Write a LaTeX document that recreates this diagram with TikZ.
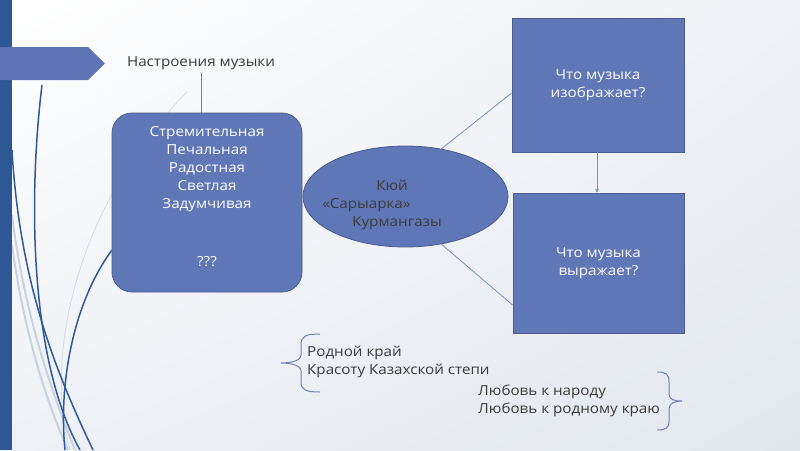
\documentclass[tikz,border=0pt]{standalone}
\usepackage{fontspec}
\setmainfont{Open Sans}[FakeStretch=1.1]
\usetikzlibrary{shapes.geometric,arrows.meta,shadings}
\definecolor{barc}{HTML}{2E5796}
\definecolor{arrowc}{HTML}{5E74B6}
\definecolor{boxc}{HTML}{5F77B7}
\definecolor{boxd}{HTML}{4B5D8F}
\definecolor{linec}{HTML}{7F8FBD}
\definecolor{txt}{HTML}{3B3B3B}
\definecolor{curved}{HTML}{2F5A99}
\definecolor{curvel}{HTML}{C9D3E0}
\definecolor{bgr}{HTML}{E3E8EF}
\definecolor{bgm}{HTML}{EEF1F5}
\definecolor{bracec}{HTML}{6F82B6}
\tikzset{
  base/.style={font=\fontsize{13.8}{18}\selectfont},
  plain/.style={base, text=txt, inner sep=0pt},
  bluebox/.style={base, draw=boxd, fill=boxc, text=white, line width=0.8pt, align=center},
  conn/.style={draw=linec, line width=0.8pt},
  dcurve/.style={draw=curved, line width=1.5pt},
  lcurve/.style={draw=curvel, line width=2pt},
  bracestyle/.style={draw=bracec, line width=1pt},
}
\begin{document}
\begin{tikzpicture}[x=1pt,y=-1pt]
\useasboundingbox (0,0) rectangle (800,450);
\shade[upper left=white, upper right=bgm, lower left=bgm, lower right=bgr] (0,0) rectangle (800,450);
% background curves
\draw[curvel!80, line width=0.8pt] (187,92) .. controls (90,190) and (40,340) .. (70,450);
\draw[lcurve] (12,215) .. controls (25,320) and (55,400) .. (75,450);
\draw[lcurve] (12,245) .. controls (25,340) and (50,410) .. (68,450);
\draw[dcurve] (12,150) .. controls (20,290) and (60,380) .. (93,450);
\draw[dcurve] (42,85) .. controls (28,200) and (30,360) .. (80,450);
\draw[dcurve] (112,250) .. controls (75,300) and (58,380) .. (65,450);
% left bar and arrow
\fill[barc] (0,0) rectangle (12,450);
\fill[arrowc] (0,47) -- (88,47) -- (105,63.5) -- (88,80) -- (0,80) -- cycle;
% nodes
\node[plain] (mood) at (201,63) {Настроения музыки};
\node[bluebox, rounded corners=20pt, inner sep=0pt] (moods) at (207,202.5)
  {\parbox[c][179pt][t]{190pt}{\centering\vspace*{14pt}Стремительная\\Печальная\\Радостная\\Светлая\\Задумчивая\\[40pt]???}};
\node[base, ellipse, draw=boxd, fill=boxc, text=txt, line width=0.8pt, minimum width=205pt, minimum height=101pt, inner sep=0pt] (kyui) at (405.5,196.5)
  {\makebox[0pt]{\smash{\raisebox{-12pt}{\begin{tabular}{@{}l@{}}\hspace*{54pt}Кюй\\«Сарыарка»\\\hspace*{30pt}Курмангазы\hspace*{47pt}\end{tabular}}}}};
\node[bluebox, minimum width=172pt, minimum height=134pt] (depicts) at (598,85) {Что музыка\\изображает?};
\node[bluebox, minimum width=171pt, minimum height=140pt] (expresses) at (598.5,263) {Что музыка\\выражает?};
% connectors
\draw[draw=boxd!80, line width=0.8pt] (mood.south) ++(0,3) coordinate (ms) -- (ms |- moods.north);
\draw[conn] (kyui.53) -- ([yshift=-8pt]depicts.west);
\draw[conn] (kyui.-53) -- ([yshift=-42pt]expresses.west);
\draw[draw=linec, line width=0.8pt, -{Stealth[length=4pt,width=4pt]}] (depicts.south -| 597,0) -- (expresses.north -| 597,0);
% bottom texts
\node[plain, anchor=west, align=left] (place) at (307,362) {Родной край\\Красоту Казахской степи};
\node[plain, anchor=west, align=left] (love) at (478,401) {Любовь к народу\\Любовь к родному краю};
% braces
\draw[bracestyle] (320,334) .. controls (306,334) and (301,336) .. (301,345) -- (301,355) .. controls (301,361) and (290,363) .. (281,363) .. controls (290,363) and (301,365) .. (301,371) -- (301,382) .. controls (301,390) and (306,392) .. (320,392);
\draw[bracestyle] (657,372) .. controls (666,372) and (669,374) .. (669,382) -- (669,394) .. controls (669,400) and (675,401) .. (682,401) .. controls (675,401) and (669,403) .. (669,409) -- (669,421) .. controls (669,428) and (666,430) .. (657,430);
\end{tikzpicture}
\end{document}
